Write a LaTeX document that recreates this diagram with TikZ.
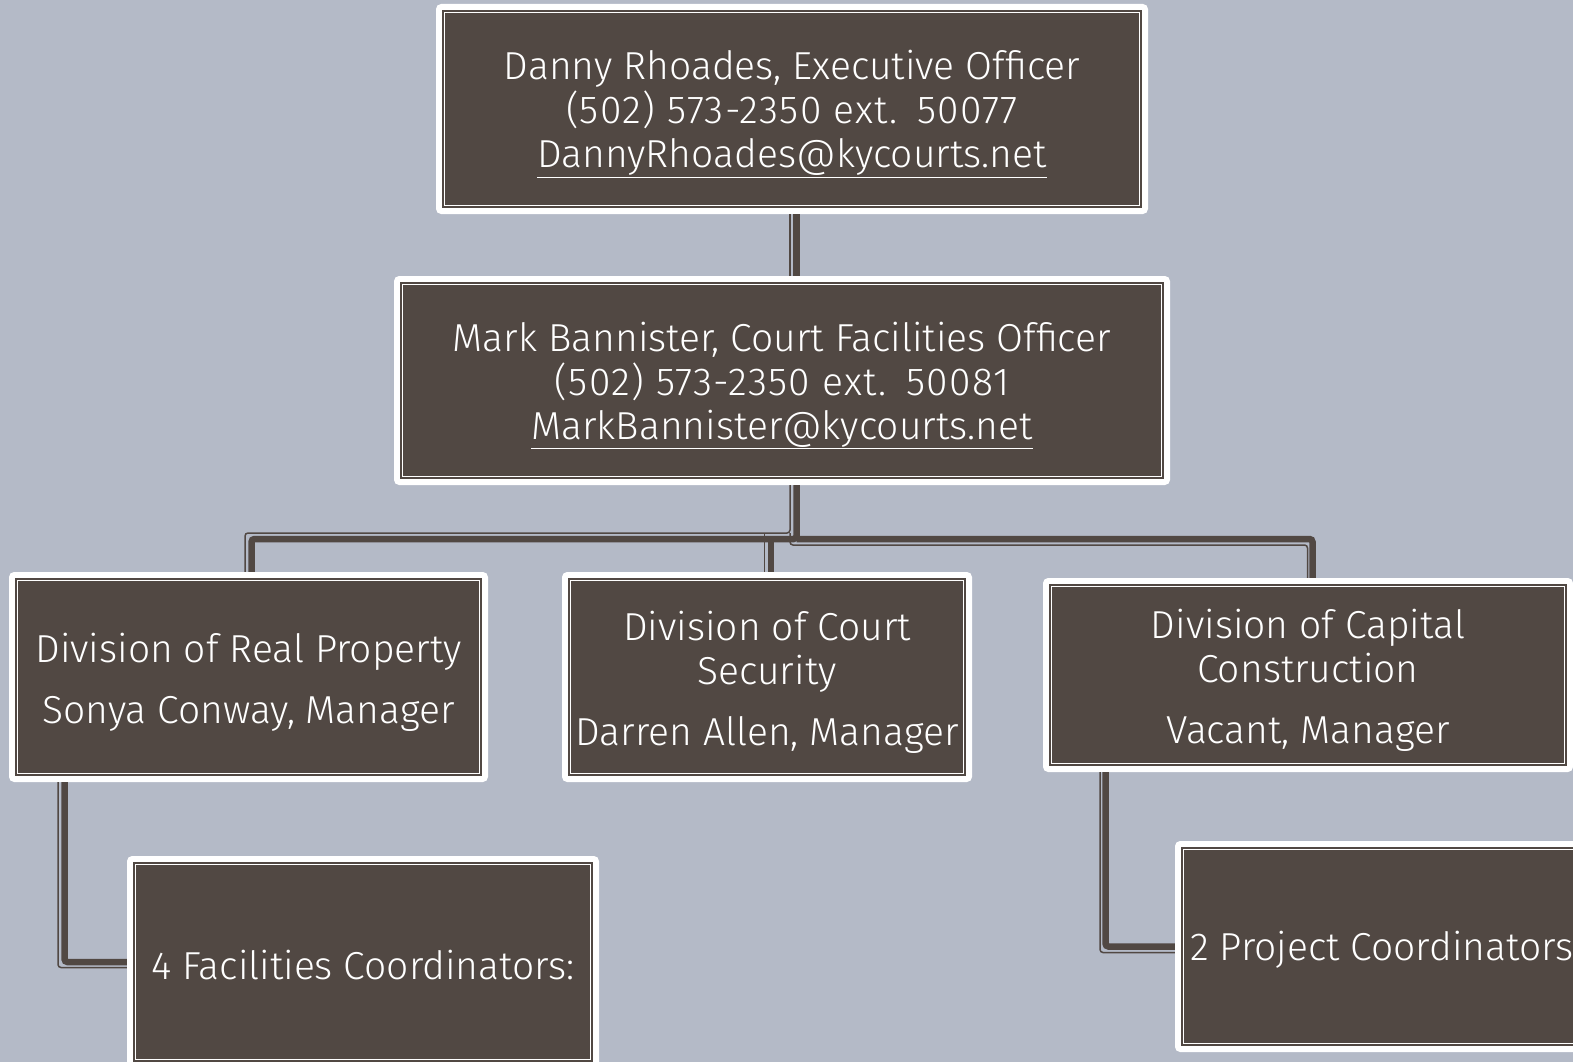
\documentclass[tikz,border=0pt]{standalone}
\usepackage{fontspec}
\setmainfont{Fira Sans Light}
\newfontfamily\phonefont[LetterSpace=3.5]{Fira Sans Light}
\definecolor{bgc}{RGB}{180,186,199}
\definecolor{boxdark}{RGB}{81,72,67}
\begin{document}
\begin{tikzpicture}[x=1pt,y=-1pt,
  orgbox/.style={fill=white, rounded corners=5pt, inner sep=0pt,
    path picture={
      \fill[boxdark, sharp corners] ([shift={(6pt,-6pt)}]path picture bounding box.north west) rectangle ([shift={(-6pt,6pt)}]path picture bounding box.south east);
      \draw[white, line width=1.4pt, sharp corners] ([shift={(8.5pt,-8.5pt)}]path picture bounding box.north west) rectangle ([shift={(-8.5pt,8.5pt)}]path picture bounding box.south east);
    }},
  txt/.style={text=white, align=center, inner sep=0pt, font=\fontsize{39}{44}\selectfont},
  conthick/.style={draw=boxdark, line width=6.5pt, rounded corners=3pt},
  conthin/.style={draw=boxdark, line width=1.5pt, rounded corners=3pt}]
\useasboundingbox (0,0) rectangle (1573,1062);
\fill[bgc] (0,0) rectangle (1573,1062);
\clip (0,0) rectangle (1573,1062);

\coordinate (j) at (796.5,539);
\coordinate (jt) at (790,533);
\coordinate (jb) at (790,545);

\node[orgbox, minimum width=712pt, minimum height=210pt] (b1) at (792,109) {};
\node[orgbox, minimum width=776pt, minimum height=209pt] (b2) at (782,380.5) {};
\node[orgbox, minimum width=479pt, minimum height=210pt] (b3) at (248.5,677) {};
\node[orgbox, minimum width=410pt, minimum height=210pt] (b4) at (767,677) {};
\node[orgbox, minimum width=530pt, minimum height=194pt] (b5) at (1308,675) {};
\node[orgbox, minimum width=472pt, minimum height=212pt] (b6) at (363,962) {};
\node[orgbox, minimum width=445pt, minimum height=211pt] (b7) at (1397.5,946.5) {};

\node[txt] (t1) at ([yshift=-5pt]b1.center)
  {Danny Rhoades, Executive Officer\\{\phonefont(502) 573-2350 ext.\hspace{0.5em}50077}\\\underline{DannyRhoades@kycourts.net}};
\node[txt] (t2) at ([yshift=-5pt]b2.center)
  {Mark Bannister, Court Facilities Officer\\{\phonefont(502) 573-2350 ext.\hspace{0.5em}50081}\\\underline{MarkBannister@kycourts.net}};
\node[txt] (t3) at ([yshift=-5pt]b3.center)
  {Division of Real Property\\[17pt]Sonya Conway, Manager};
\node[txt] (t4) at ([yshift=-5pt]b4.center)
  {Division of Court\\Security\\[17pt]Darren Allen, Manager};
\node[txt] (t5) at ([yshift=-5pt]b5.center)
  {Division of Capital\\Construction\\[17pt]Vacant, Manager};
\node[txt] (t6) at ([yshift=-3pt]b6.center) {4 Facilities Coordinators:};
\node[txt, anchor=west] (t7) at ([xshift=15pt, yshift=-3pt]b7.west) {2 Project Coordinators};

% top connector
\draw[conthick] ([xshift=4.5pt]b1.south) -- ([xshift=4.5pt]b1.south |- b2.north);
\draw[conthin] ([xshift=-2pt]b1.south) -- ([xshift=-2pt]b1.south |- b2.north);
% trunk and branches
\draw[conthick] (j |- b2.south) -- (j) -| ([xshift=3pt]b3.north);
\draw[conthick] (j) -| ([xshift=4.5pt]b5.north);
\draw[conthick] ([xshift=4pt]b4.north |- j) -- ([xshift=4pt]b4.north);
\draw[conthin] (jt |- b2.south) -- (jt) -| ([xshift=-3.5pt]b3.north);
\draw[conthin] (jt) -- (jb) -| ([xshift=-0.5pt]b5.north);
\draw[conthin] ([xshift=-2.5pt]b4.north |- jt) -- ([xshift=-2.5pt]b4.north);
% sub branches
\draw[conthick] ([xshift=-184pt]b3.south) |- (b6.west);
\draw[conthin] ([xshift=-190.5pt]b3.south) |- ([yshift=-5.5pt]b6.west);
\draw[conthick] ([xshift=-202.5pt]b5.south) |- (b7.west);
\draw[conthin] ([xshift=-208pt]b5.south) |- ([yshift=-6pt]b7.west);
\end{tikzpicture}
\end{document}
